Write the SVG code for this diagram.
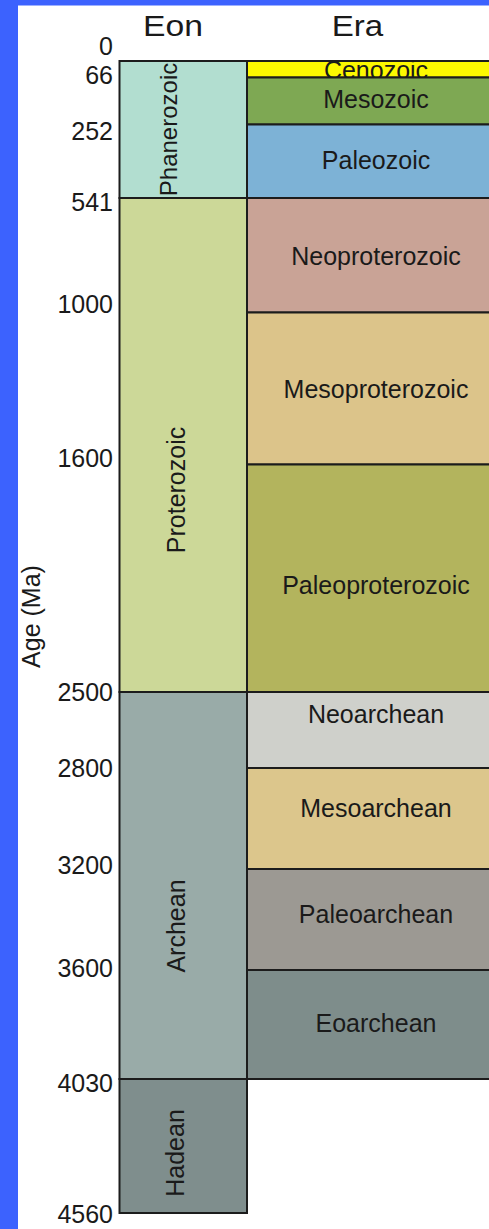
<svg xmlns="http://www.w3.org/2000/svg" width="489" height="1229" viewBox="0 0 489 1229">
<style>
.t{font-family:"Liberation Sans",Arial,sans-serif;fill:#1a1a1a}
.age{font-size:25px;text-anchor:end}
.era{font-size:25px;text-anchor:middle}
.eon{font-size:25px;text-anchor:middle}
.hd{font-size:30px;text-anchor:middle}
.box{stroke:#1c1c1c;stroke-width:2}
</style>
<rect width="489" height="1229" fill="#ffffff"/>
<rect x="0" y="0" width="489" height="5.5" fill="#3c62fe"/>
<rect x="0" y="0" width="18" height="1229" fill="#3c62fe"/>

<g id="headers">
<text class="t hd" x="173" y="36" textLength="60" lengthAdjust="spacingAndGlyphs">Eon</text>
<text class="t hd" x="357.5" y="36" textLength="51.5" lengthAdjust="spacingAndGlyphs">Era</text>
</g>

<g id="axis">
<text class="t eon" transform="translate(40 616.5) rotate(-90)">Age (Ma)</text>
<text class="t age" x="113" y="55">0</text>
<text class="t age" x="113" y="84">66</text>
<text class="t age" x="113" y="139.5">252</text>
<text class="t age" x="113" y="211">541</text>
<text class="t age" x="113" y="313">1000</text>
<text class="t age" x="113" y="466.5">1600</text>
<text class="t age" x="113" y="701">2500</text>
<text class="t age" x="113" y="776.5">2800</text>
<text class="t age" x="113" y="873.5">3200</text>
<text class="t age" x="113" y="976.5">3600</text>
<text class="t age" x="113" y="1092">4030</text>
<text class="t age" x="113" y="1222.5">4560</text>
</g>

<g id="eons">
<g id="phanerozoic">
<rect class="box" x="119.5" y="61" width="127.5" height="137" fill="#b2ded0"/>
<text class="t eon" style="font-size:24px" transform="translate(177 129.5) rotate(-90)">Phanerozoic</text>
</g>
<g id="proterozoic">
<rect class="box" x="119.5" y="198" width="127.5" height="494" fill="#ccd898"/>
<text class="t eon" transform="translate(185 490) rotate(-90)">Proterozoic</text>
</g>
<g id="archean">
<rect class="box" x="119.5" y="692" width="127.5" height="387" fill="#99aba8"/>
<text class="t eon" transform="translate(185 926) rotate(-90)">Archean</text>
</g>
<g id="hadean">
<rect class="box" x="119.5" y="1079" width="127.5" height="134" fill="#7f8e8d"/>
<text class="t eon" transform="translate(184 1153) rotate(-90)">Hadean</text>
</g>
</g>

<g id="eras">
<g id="cenozoic">
<rect class="box" x="247" y="61" width="260" height="16.5" fill="#fcf800"/>
<text class="t era" x="376" y="78.5">Cenozoic</text>
</g>
<g id="mesozoic">
<rect class="box" x="247" y="77.5" width="260" height="47" fill="#7ea853"/>
<text class="t era" x="376" y="108">Mesozoic</text>
</g>
<g id="paleozoic">
<rect class="box" x="247" y="124.5" width="260" height="73.5" fill="#7db2d6"/>
<text class="t era" x="376" y="168.5">Paleozoic</text>
</g>
<g id="neoproterozoic">
<rect class="box" x="247" y="198" width="260" height="114.5" fill="#c9a396"/>
<text class="t era" x="376" y="265">Neoproterozoic</text>
</g>
<g id="mesoproterozoic">
<rect class="box" x="247" y="312.5" width="260" height="152" fill="#dcc48a"/>
<text class="t era" x="376" y="398">Mesoproterozoic</text>
</g>
<g id="paleoproterozoic">
<rect class="box" x="247" y="464.5" width="260" height="227.5" fill="#b3b45d"/>
<text class="t era" x="376" y="594">Paleoproterozoic</text>
</g>
<g id="neoarchean">
<rect class="box" x="247" y="692" width="260" height="76" fill="#cfd0cb"/>
<text class="t era" x="376" y="723">Neoarchean</text>
</g>
<g id="mesoarchean">
<rect class="box" x="247" y="768" width="260" height="101" fill="#dcc68c"/>
<text class="t era" x="376" y="816.5">Mesoarchean</text>
</g>
<g id="paleoarchean">
<rect class="box" x="247" y="869" width="260" height="101" fill="#9c9993"/>
<text class="t era" x="376" y="922.5">Paleoarchean</text>
</g>
<g id="eoarchean">
<rect class="box" x="247" y="970" width="260" height="109" fill="#7e8d8b"/>
<text class="t era" x="376" y="1031.5">Eoarchean</text>
</g>
</g>

<g id="connectors"></g>
</svg>
